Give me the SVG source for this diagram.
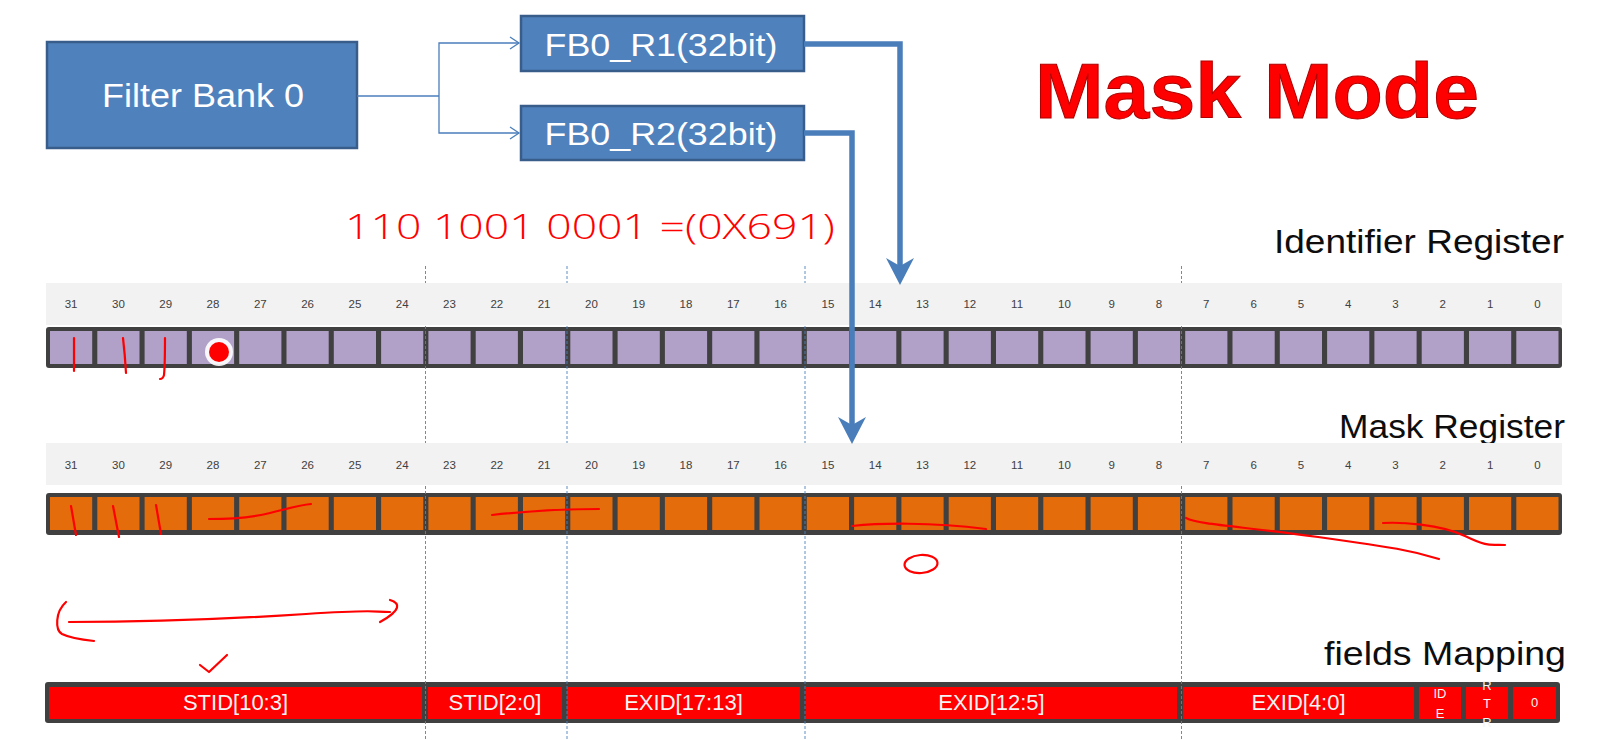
<svg xmlns="http://www.w3.org/2000/svg" xmlns:xlink="http://www.w3.org/1999/xlink" width="1614" height="740" viewBox="0 0 1614 740">
<defs>
<style>
.box{fill:#4f81bd;stroke:#385d8a;stroke-width:2.5}
.boxtxt{font-family:"Liberation Sans",Arial,sans-serif;fill:#ffffff;text-anchor:middle}
.band{fill:#f2f2f2}
.bar{fill:#404040}
.num{font-family:"Liberation Sans",Arial,sans-serif;font-size:11.5px;fill:#404040;text-anchor:middle}
.ftxt{font-family:"Liberation Sans",Arial,sans-serif;font-size:22px;fill:#f4f4f4;text-anchor:middle}
.stxt{font-family:"Liberation Sans",Arial,sans-serif;font-size:13px;fill:#f4f4f4;text-anchor:middle}
.fd{fill:#ff0000}
.ink{fill:none;stroke:#ff0000;stroke-width:2.2;stroke-linecap:round;stroke-linejoin:round}
.dash{stroke:#4f81bd;stroke-width:0.9;stroke-dasharray:3 2}
.title{font-family:"Liberation Sans",Arial,sans-serif;font-size:33px;fill:#0d0d0d;text-anchor:end}
.thin{fill:none;stroke:#4a7ebb;stroke-width:1.3}
.thick{fill:none;stroke:#4a7ebb;stroke-width:5.5;stroke-linejoin:miter}
</style>
<marker id="openArrow" markerUnits="userSpaceOnUse" markerWidth="14" markerHeight="14" viewBox="0 0 14 14" refX="12" refY="7" orient="auto">
<path d="M3,1 L12,7 L3,13" fill="none" stroke="#4a7ebb" stroke-width="1.3"/>
</marker>
<marker id="bigArrow" markerUnits="userSpaceOnUse" markerWidth="28" markerHeight="30" viewBox="0 0 28 30" refX="8" refY="15" orient="auto">
<path d="M0,1 L27,15 L0,29 L8,15 z" fill="#4a7ebb"/>
</marker>
<g id="cellRow">
<rect x="50" y="0" width="42.2" height="33"/><rect x="97.3" y="0" width="42.2" height="33"/><rect x="144.6" y="0" width="42.2" height="33"/><rect x="191.9" y="0" width="42.2" height="33"/>
<rect x="239.2" y="0" width="42.2" height="33"/><rect x="286.5" y="0" width="42.2" height="33"/><rect x="333.8" y="0" width="42.2" height="33"/><rect x="381.1" y="0" width="42.2" height="33"/>
<rect x="428.4" y="0" width="42.2" height="33"/><rect x="475.7" y="0" width="42.2" height="33"/><rect x="523" y="0" width="42.2" height="33"/><rect x="570.3" y="0" width="42.2" height="33"/>
<rect x="617.6" y="0" width="42.2" height="33"/><rect x="664.9" y="0" width="42.2" height="33"/><rect x="712.2" y="0" width="42.2" height="33"/><rect x="759.5" y="0" width="42.2" height="33"/>
<rect x="806.8" y="0" width="42.2" height="33"/><rect x="854.1" y="0" width="42.2" height="33"/><rect x="901.4" y="0" width="42.2" height="33"/><rect x="948.7" y="0" width="42.2" height="33"/>
<rect x="996" y="0" width="42.2" height="33"/><rect x="1043.3" y="0" width="42.2" height="33"/><rect x="1090.6" y="0" width="42.2" height="33"/><rect x="1137.9" y="0" width="42.2" height="33"/>
<rect x="1185.2" y="0" width="42.2" height="33"/><rect x="1232.5" y="0" width="42.2" height="33"/><rect x="1279.8" y="0" width="42.2" height="33"/><rect x="1327.1" y="0" width="42.2" height="33"/>
<rect x="1374.4" y="0" width="42.2" height="33"/><rect x="1421.7" y="0" width="42.2" height="33"/><rect x="1469" y="0" width="42.2" height="33"/><rect x="1516.3" y="0" width="42.2" height="33"/>
</g>
<g id="numRow" class="num">
<text x="71.1" y="0">31</text><text x="118.4" y="0">30</text><text x="165.7" y="0">29</text><text x="213" y="0">28</text>
<text x="260.3" y="0">27</text><text x="307.6" y="0">26</text><text x="354.9" y="0">25</text><text x="402.2" y="0">24</text>
<text x="449.5" y="0">23</text><text x="496.8" y="0">22</text><text x="544.1" y="0">21</text><text x="591.4" y="0">20</text>
<text x="638.7" y="0">19</text><text x="686" y="0">18</text><text x="733.3" y="0">17</text><text x="780.6" y="0">16</text>
<text x="827.9" y="0">15</text><text x="875.2" y="0">14</text><text x="922.5" y="0">13</text><text x="969.8" y="0">12</text>
<text x="1017.1" y="0">11</text><text x="1064.4" y="0">10</text><text x="1111.7" y="0">9</text><text x="1159" y="0">8</text>
<text x="1206.3" y="0">7</text><text x="1253.6" y="0">6</text><text x="1300.9" y="0">5</text><text x="1348.2" y="0">4</text>
<text x="1395.5" y="0">3</text><text x="1442.8" y="0">2</text><text x="1490.1" y="0">1</text><text x="1537.4" y="0">0</text>
</g>
</defs>

<rect x="0" y="0" width="1614" height="740" fill="#ffffff"/>

<!-- Title texts -->
<text id="title-mask-mode" x="1035" y="118" font-family="'Liberation Sans',Arial,sans-serif" font-weight="bold" font-size="78" fill="#ff0000" stroke="#b00000" stroke-width="1" textLength="444" lengthAdjust="spacingAndGlyphs">Mask Mode</text>
<text class="title" x="1564" y="253" textLength="290" lengthAdjust="spacingAndGlyphs">Identifier Register</text>
<text class="title" x="1565" y="438" textLength="226" lengthAdjust="spacingAndGlyphs">Mask Register</text>
<text class="title" x="1566" y="665" textLength="242" lengthAdjust="spacingAndGlyphs">fields Mapping</text>

<!-- Nodes -->
<g id="filter-bank-0">
<rect class="box" x="47" y="42" width="310" height="106"/>
<text class="boxtxt" x="203" y="107" font-size="33" textLength="202" lengthAdjust="spacingAndGlyphs">Filter Bank 0</text>
</g>
<g id="fb0-r1">
<rect class="box" x="521" y="16" width="283" height="55"/>
<text class="boxtxt" x="661" y="56" font-size="31" textLength="233" lengthAdjust="spacingAndGlyphs">FB0_R1(32bit)</text>
</g>
<g id="fb0-r2">
<rect class="box" x="521" y="106" width="283" height="54"/>
<text class="boxtxt" x="661" y="145" font-size="31" textLength="233" lengthAdjust="spacingAndGlyphs">FB0_R2(32bit)</text>
</g>

<!-- Register bars -->
<g id="identifier-register">
<rect class="bar" x="46" y="327" width="1516" height="41" rx="3"/>
<use xlink:href="#cellRow" href="#cellRow" y="331" fill="#b1a0c7"/>
</g>
<g id="mask-register">
<rect class="bar" x="46" y="493" width="1516" height="42" rx="3"/>
<use xlink:href="#cellRow" href="#cellRow" y="497" fill="#e46c0a"/>
</g>

<g id="fields-mapping">
<rect class="bar" x="45" y="682" width="1515" height="41" rx="3"/>
<rect class="fd" x="49" y="687" width="373" height="32"/>
<rect class="fd" x="428" y="687" width="134" height="32"/>
<rect class="fd" x="567" y="687" width="233" height="32"/>
<rect class="fd" x="806" y="687" width="371" height="32"/>
<rect class="fd" x="1183" y="687" width="231" height="32"/>
<rect class="fd" x="1419" y="687" width="42" height="32"/>
<rect class="fd" x="1466" y="687" width="42" height="32"/>
<rect class="fd" x="1513" y="687" width="43" height="32"/>
<text class="ftxt" x="235.5" y="710">STID[10:3]</text>
<text class="ftxt" x="495" y="710">STID[2:0]</text>
<text class="ftxt" x="683.5" y="710">EXID[17:13]</text>
<text class="ftxt" x="991.5" y="710">EXID[12:5]</text>
<text class="ftxt" x="1298.5" y="710">EXID[4:0]</text>
<text class="stxt" x="1440" y="698">ID</text>
<text class="stxt" x="1440" y="718">E</text>
<text class="stxt" x="1487" y="690">R</text>
<text class="stxt" x="1487" y="708">T</text>
<text class="stxt" x="1487" y="727">R</text>
<text class="stxt" x="1534.5" y="707">0</text>
</g>

<!-- dashed field boundaries -->
<g id="field-guides">
<line class="dash" x1="425.5" y1="266" x2="425.5" y2="740"/>
<line class="dash" x1="567" y1="266" x2="567" y2="740"/>
<line class="dash" x1="805" y1="266" x2="805" y2="740"/>
<line class="dash" x1="1181.5" y1="266" x2="1181.5" y2="740"/>
</g>

<!-- label bands with bit numbers -->
<g id="bit-labels">
<rect class="band" x="46" y="283" width="1516" height="42"/>
<use xlink:href="#numRow" href="#numRow" y="308"/>
<rect class="band" x="46" y="443" width="1516" height="42"/>
<use xlink:href="#numRow" href="#numRow" y="469"/>
</g>

<!-- Connectors -->
<g id="connectors">
<path class="thin" d="M357,96 L439,96"/>
<path class="thin" d="M439,96 L439,43 L519,43" marker-end="url(#openArrow)"/>
<path class="thin" d="M439,96 L439,133 L519,133" marker-end="url(#openArrow)"/>
<path class="thick" d="M804,44 L900,44 L900,266" marker-end="url(#bigArrow)"/>
<path class="thick" d="M804,133 L852,133 L852,425" marker-end="url(#bigArrow)"/>
</g>

<!-- Handwritten annotations -->
<g id="annotations">
<text x="345" y="239" font-family="'Open Sans','Liberation Sans',Arial,sans-serif" font-weight="300" font-size="34" fill="#ff0000" textLength="490" lengthAdjust="spacingAndGlyphs">110 1001 0001 =(0X691)</text>
<path class="ink" d="M74,338 L74,371"/>
<path class="ink" d="M123,338 Q125,355 126,373"/>
<path class="ink" d="M165,338 Q165,365 164,375 Q163,379 160,379"/>
<circle cx="219" cy="352" r="14" fill="#ffffff" opacity="0.9"/>
<circle cx="219" cy="352" r="10" fill="#ff0000"/>
<path class="ink" d="M71,506 L76,535"/>
<path class="ink" d="M113,506 L119,537"/>
<path class="ink" d="M156,505 L161,534"/>
<path class="ink" d="M209,519 C230,519 250,518 270,513 S300,505 311,504"/>
<path class="ink" d="M492,515 C520,512 560,509 599,509"/>
<path class="ink" d="M852,526 C880,523 930,522 986,529"/>
<ellipse class="ink" cx="921" cy="564" rx="16.5" ry="9" transform="rotate(-4 921 564)"/>
<path class="ink" d="M1186,518 C1200,525 1240,526 1318,537 S1410,550 1439,559"/>
<path class="ink" d="M1383,523 C1400,522 1440,524 1465,536 S1490,544 1505,545"/>
<path class="ink" d="M69,622 C150,622 230,619 306,614 S370,612 390,612"/>
<path class="ink" d="M66,602 C55,612 55,630 62,634 C70,638 85,640 94,641"/>
<path class="ink" d="M390,600 C400,603 402,610 380,622"/>
<path class="ink" d="M200,665 L209,672 L227,655"/>
</g>
</svg>
